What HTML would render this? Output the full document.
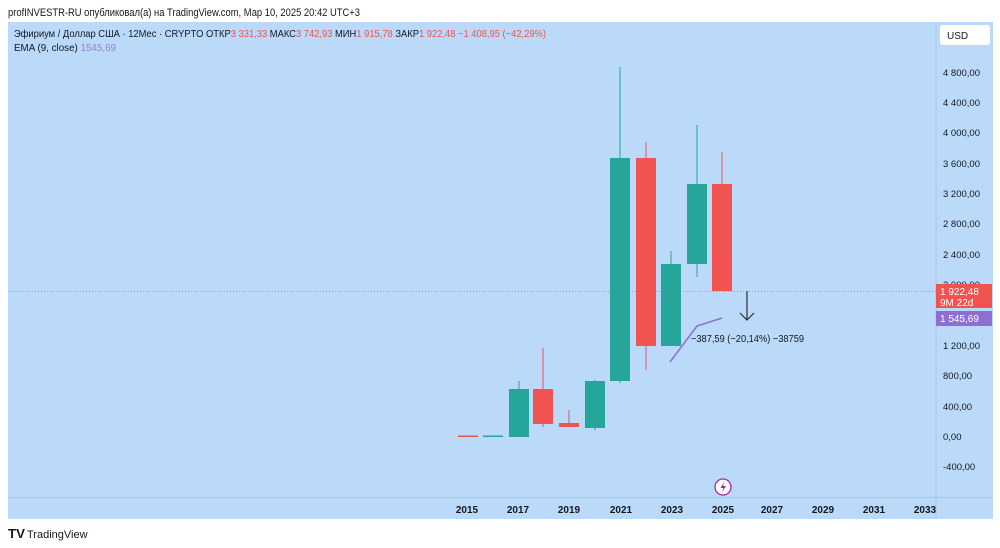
<!DOCTYPE html>
<html><head><meta charset="utf-8"><style>
body{margin:0;width:1000px;height:548px;background:#fff;overflow:hidden;font-family:"Liberation Sans","Noto Sans CJK SC",sans-serif}
svg{display:block}
</style></head><body>
<svg width="1000" height="548" xmlns="http://www.w3.org/2000/svg" font-family="Liberation Sans, sans-serif">
<text x="8" y="16" font-size="11" fill="#131722" textLength="352" lengthAdjust="spacingAndGlyphs">profINVESTR-RU опубликовал(а) на TradingView.com, Мар 10, 2025 20:42 UTC+3</text>
<rect x="8" y="22" width="985" height="497" fill="#bbdafa"/>
<line x1="936" y1="22" x2="936" y2="519" stroke="#a7c6e6" stroke-width="1"/>
<line x1="8" y1="497.5" x2="993" y2="497.5" stroke="#a7c6e6" stroke-width="1"/>
<rect x="940" y="25" width="50" height="20" rx="3" fill="#fff"/>
<text x="947" y="39" font-size="10" fill="#131722">USD</text>
<text x="14" y="37" font-size="10" fill="#131722" textLength="532" lengthAdjust="spacingAndGlyphs">Эфириум / Доллар США · 12Мес · CRYPTO  ОТКР<tspan fill="#f05350">3 331,33</tspan>  МАКС<tspan fill="#f05350">3 742,93</tspan>  МИН<tspan fill="#f05350">1 915,78</tspan>  ЗАКР<tspan fill="#f05350">1 922,48  −1 408,95 (−42,29%)</tspan></text>
<text x="14" y="51" font-size="10" fill="#131722" textLength="102" lengthAdjust="spacingAndGlyphs">EMA (9, close) <tspan fill="#9c7ed6">1545,69</tspan></text>
<g font-size="9.5" fill="#131722">
<text x="943" y="76">4 800,00</text>
<text x="943" y="106">4 400,00</text>
<text x="943" y="136">4 000,00</text>
<text x="943" y="167">3 600,00</text>
<text x="943" y="197">3 200,00</text>
<text x="943" y="227">2 800,00</text>
<text x="943" y="258">2 400,00</text>
<text x="943" y="288">2 000,00</text>
<text x="943" y="349">1 200,00</text>
<text x="943" y="379">800,00</text>
<text x="943" y="410">400,00</text>
<text x="943" y="440">0,00</text>
<text x="943" y="470">-400,00</text>
</g>
<line x1="8" y1="291.5" x2="936" y2="291.5" stroke="#e08080" stroke-width="1" stroke-dasharray="1,2"/>
<g stroke-width="1">
<rect x="458" y="435.5" width="20" height="1.5" fill="#f05350"/>
<rect x="483" y="435.5" width="20" height="1.5" fill="#26a69a"/>
<line x1="519" y1="381" x2="519" y2="437" stroke="#26a69a"/><rect x="509" y="389" width="20" height="48" fill="#26a69a"/>
<line x1="543" y1="348" x2="543" y2="427" stroke="#f05350"/><rect x="533" y="389" width="20" height="35" fill="#f05350"/>
<line x1="569" y1="410" x2="569" y2="427" stroke="#f05350"/><rect x="559" y="423" width="20" height="4" fill="#f05350"/>
<line x1="595" y1="380" x2="595" y2="430" stroke="#26a69a"/><rect x="585" y="381" width="20" height="47" fill="#26a69a"/>
<line x1="620" y1="67" x2="620" y2="383" stroke="#26a69a"/><rect x="610" y="158" width="20" height="223" fill="#26a69a"/>
<line x1="646" y1="142" x2="646" y2="370" stroke="#f05350"/><rect x="636" y="158" width="20" height="188" fill="#f05350"/>
<line x1="671" y1="251" x2="671" y2="346" stroke="#26a69a"/><rect x="661" y="264" width="20" height="82" fill="#26a69a"/>
<line x1="697" y1="125" x2="697" y2="277" stroke="#26a69a"/><rect x="687" y="184" width="20" height="80" fill="#26a69a"/>
<line x1="722" y1="152" x2="722" y2="184" stroke="#f05350"/><rect x="712" y="184" width="20" height="107" fill="#f05350"/>
</g>
<polyline points="670,362 697,326 722,318" fill="none" stroke="#8e6fd0" stroke-width="1.5"/>
<line x1="747" y1="291" x2="747" y2="320" stroke="#2a2e39" stroke-width="1.2"/>
<polyline points="740,313 747,320 754,313" fill="none" stroke="#2a2e39" stroke-width="1.2"/>
<text x="691" y="342" font-size="10" fill="#131722" textLength="113" lengthAdjust="spacingAndGlyphs">−387,59 (−20,14%) −38759</text>
<rect x="936" y="284" width="56" height="24" fill="#f05350"/>
<text x="940" y="295" font-size="10" fill="#fff">1 922,48</text>
<text x="940" y="306" font-size="10" fill="#fff">9M 22d</text>
<rect x="936" y="311" width="56" height="15" fill="#8e6fd0"/>
<text x="940" y="322" font-size="10" fill="#fff">1 545,69</text>
<circle cx="723" cy="487" r="8" fill="#fff" stroke="#9c27b0" stroke-width="1.3"/>
<path d="M724.5,481.5 L720.5,488 L723.5,488 L722,492.5 L726,486 L723,486 Z" fill="#9c27b0"/>
<g font-size="10" font-weight="bold" fill="#131722" text-anchor="middle">
<text x="467" y="513">2015</text><text x="518" y="513">2017</text><text x="569" y="513">2019</text>
<text x="621" y="513">2021</text><text x="672" y="513">2023</text><text x="723" y="513">2025</text>
<text x="772" y="513">2027</text><text x="823" y="513">2029</text><text x="874" y="513">2031</text><text x="925" y="513">2033</text>
</g>
<text x="8" y="538" font-size="13" font-weight="bold" fill="#131722" textLength="17" lengthAdjust="spacingAndGlyphs">TV</text>
<text x="27" y="538" font-size="11" fill="#131722">TradingView</text>
</svg>
</body></html>
